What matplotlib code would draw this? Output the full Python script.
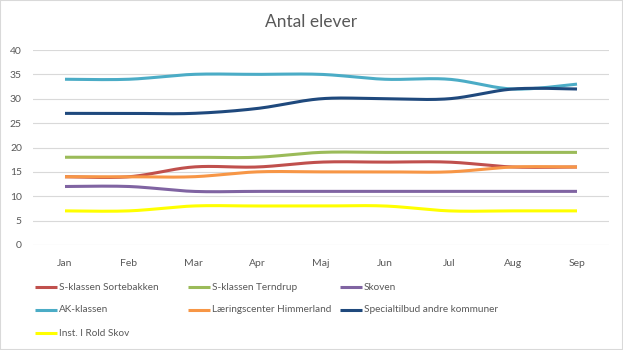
import numpy as np
import matplotlib.pyplot as plt
from matplotlib.lines import Line2D

plt.rcParams['font.family'] = ['Lato', 'DejaVu Sans']

months = ["Jan", "Feb", "Mar", "Apr", "Maj", "Jun", "Jul", "Aug", "Sep"]

sortebakken = [14, 14, 16, 16, 17, 17, 17, 16, 16]
terndrup = [18, 18, 18, 18, 19, 19, 19, 19, 19]
skoven = [12, 12, 11, 11, 11, 11, 11, 11, 11]
ak_klassen = [34, 34, 35, 35, 35, 34, 34, 32, 33]
laeringscenter = [14, 14, 14, 15, 15, 15, 15, 16, 16]
specialtilbud = [27, 27, 27, 28, 30, 30, 30, 32, 32]
rold_skov = [7, 7, 8, 8, 8, 8, 7, 7, 7]

series = [
    ("S-klassen Sortebakken", sortebakken, "#C0504D"),
    ("S-klassen Terndrup", terndrup, "#9BBB59"),
    ("Skoven", skoven, "#8064A2"),
    ("AK-klassen", ak_klassen, "#4BACC6"),
    ("Læringscenter Himmerland", laeringscenter, "#F79646"),
    ("Specialtilbud andre kommuner", specialtilbud, "#1F497D"),
    ("Inst. I Rold Skov", rold_skov, "#FFFF00"),
]


def smooth(y, n=30):
    # bezier-kurve gennem punkterne (som Excel "udjævnet linje")
    y = np.asarray(y, dtype=float)
    x = np.arange(len(y), dtype=float)
    p = np.column_stack([x, y])
    ext = np.vstack([p[0], p, p[-1]])
    t = np.linspace(0, 1, n)[:, None]
    out = []
    for i in range(len(p) - 1):
        p0, p3 = ext[i + 1], ext[i + 2]
        c1 = p0 + (ext[i + 2] - ext[i]) / 6
        c2 = p3 - (ext[i + 3] - ext[i + 1]) / 6
        seg = ((1 - t) ** 3) * p0 + 3 * ((1 - t) ** 2) * t * c1 \
            + 3 * (1 - t) * t ** 2 * c2 + t ** 3 * p3
        out.append(seg if i == 0 else seg[1:])
    out = np.vstack(out)
    return out[:, 0], out[:, 1]


fig = plt.figure(figsize=(6.23, 3.5), dpi=100)
ax = fig.add_axes([33 / 623, 1 - 245 / 350, 576 / 623, 195 / 350])

for name, vals, col in series:
    sx, sy = smooth(vals)
    ax.plot(sx, sy, color=col, lw=2.2, solid_capstyle='butt')

ax.set_xlim(-0.5, len(months) - 0.5)
ax.set_ylim(0, 40)
ax.set_yticks(range(0, 41, 5))
ax.set_xticks(range(len(months)))
ax.set_xticklabels(months)
ax.grid(axis='y', color='#D9D9D9', lw=0.8)
ax.set_axisbelow(True)
for s in ax.spines.values():
    s.set_visible(False)
ax.tick_params(length=0, labelsize=7.5, colors='#595959')
ax.tick_params(axis='x', pad=10)
ax.tick_params(axis='y', pad=8)

fig.text(0.5, 1 - 22 / 350, "Antal elever", ha='center', va='center',
         fontsize=12.5, color='#595959')

# forklaring, tre kolonner
col_x = [35, 188, 340]
row_y = [287, 310, 333]
for i, (name, vals, col) in enumerate(series):
    cx = col_x[i % 3]
    cy = 1 - row_y[i // 3] / 350
    fig.add_artist(Line2D([cx / 623, (cx + 22) / 623], [cy, cy],
                          color=col, lw=2.2, solid_capstyle='butt'))
    fig.text((cx + 24) / 623, cy, name, ha='left', va='center',
             fontsize=7.2, color='#595959')

fig.add_artist(plt.Rectangle((0, 0), 1, 1, transform=fig.transFigure,
                             fill=False, edgecolor='#D9D9D9', lw=1.5))

fig.savefig("out.png", dpi=100)
